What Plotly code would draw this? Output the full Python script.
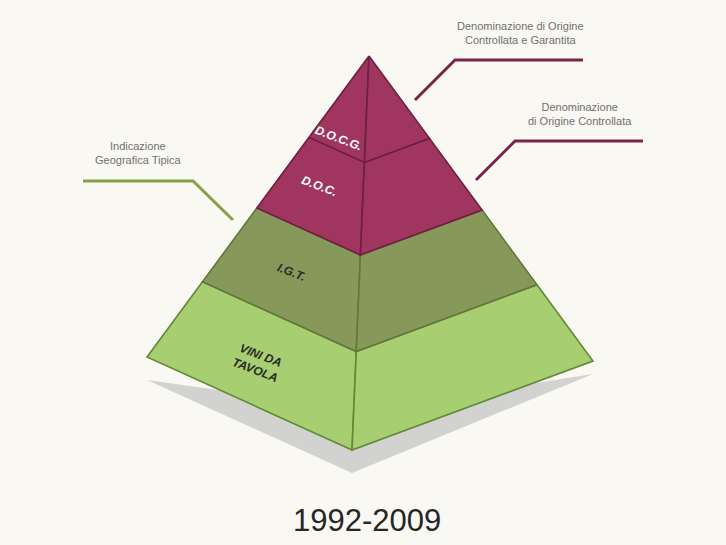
import plotly.graph_objects as go

# ---- data ----
tiers = ["VINI DA<br>TAVOLA", "I.G.T.", "D.O.C.", "D.O.C.G."]
tier_bottom = [1.0, 0.75, 0.505, 0.27]   # fraction from apex to base
tier_top = [0.75, 0.505, 0.27, 0.0]
tier_fill = ["#a7ce70", "#87995a", "#a0355f", "#a0355f"]
tier_edge = ["#5f8a35", "#62773a", "#6e1f42", "#6e1f42"]
tier_text_color = ["#2a2a2a", "#2a2a2a", "#ffffff", "#ffffff"]
tier_label_pos = [(258, 363), (291, 272), (319, 186), (338, 138)]

callout_texts = ["Indicazione<br>Geografica Tipica",
                 "Denominazione di Origine<br>Controllata e Garantita",
                 "Denominazione<br>di Origine Controllata"]
callout_colors = ["#86a046", "#7a2448", "#7a2448"]
callout_lines = [[(83, 181), (193, 181), (233, 220)],
                 [(583, 60), (455, 60), (415, 100)],
                 [(643, 141), (515, 141), (476, 180)]]
callout_text_pos = [(138, 153), (520, 33), (580, 114)]

title = "1992-2009"

# ---- geometry ----
APEX = (369, 56)
LEFT = (147, 357)
FRONT = (352, 450)
RIGHT = (593, 361)
SHADOW_DY = 23


def along(base, t):
    return (APEX[0] + t * (base[0] - APEX[0]), APEX[1] + t * (base[1] - APEX[1]))


fig = go.Figure()

# shadow
sx = [LEFT[0], FRONT[0], RIGHT[0], FRONT[0] + 10, LEFT[0]]
sy = [LEFT[1] + SHADOW_DY, FRONT[1] + SHADOW_DY, RIGHT[1] + SHADOW_DY - 10, FRONT[1] - 40, LEFT[1] + SHADOW_DY]
fig.add_trace(go.Scatter(x=sx, y=sy, fill="toself", fillcolor="#d2d2d0", line=dict(width=0),
                         mode="lines", hoverinfo="skip", showlegend=False))

for i, name in enumerate(tiers):
    t0, t1 = tier_top[i], tier_bottom[i]
    for side in (LEFT, RIGHT):
        pts = [along(side, t0), along(FRONT, t0), along(FRONT, t1), along(side, t1)]
        pts.append(pts[0])
        fig.add_trace(go.Scatter(x=[p[0] for p in pts], y=[p[1] for p in pts], fill="toself",
                                 fillcolor=tier_fill[i], line=dict(color=tier_edge[i], width=1.6),
                                 mode="lines", hoverinfo="skip", showlegend=False))
    fig.add_annotation(x=tier_label_pos[i][0], y=tier_label_pos[i][1], text="<b><i>%s</i></b>" % name,
                       showarrow=False, textangle=21,
                       font=dict(family="Liberation Sans Narrow, Liberation Sans, Arial", size=12,
                                 color=tier_text_color[i]))

for i, txt in enumerate(callout_texts):
    pts = callout_lines[i]
    fig.add_trace(go.Scatter(x=[p[0] for p in pts], y=[p[1] for p in pts], mode="lines",
                             line=dict(color=callout_colors[i], width=3), hoverinfo="skip", showlegend=False))
    fig.add_annotation(x=callout_text_pos[i][0], y=callout_text_pos[i][1], text=txt, showarrow=False,
                       font=dict(family="Liberation Sans Narrow, Liberation Sans, Arial", size=11, color="#707070"))

fig.add_annotation(x=367, y=520, text=title, showarrow=False,
                   font=dict(family="Liberation Sans, Arial", size=31, color="#262626"))

fig.update_layout(width=726, height=545, margin=dict(l=0, r=0, t=0, b=0),
                  paper_bgcolor="#faf8f3", plot_bgcolor="#faf8f3",
                  xaxis=dict(range=[0, 726], visible=False, fixedrange=True),
                  yaxis=dict(range=[545, 0], visible=False, fixedrange=True))

fig.write_html("out.html", config={"displayModeBar": False},
               post_script="document.body.style.margin='0';document.body.style.background='#faf8f3';")
